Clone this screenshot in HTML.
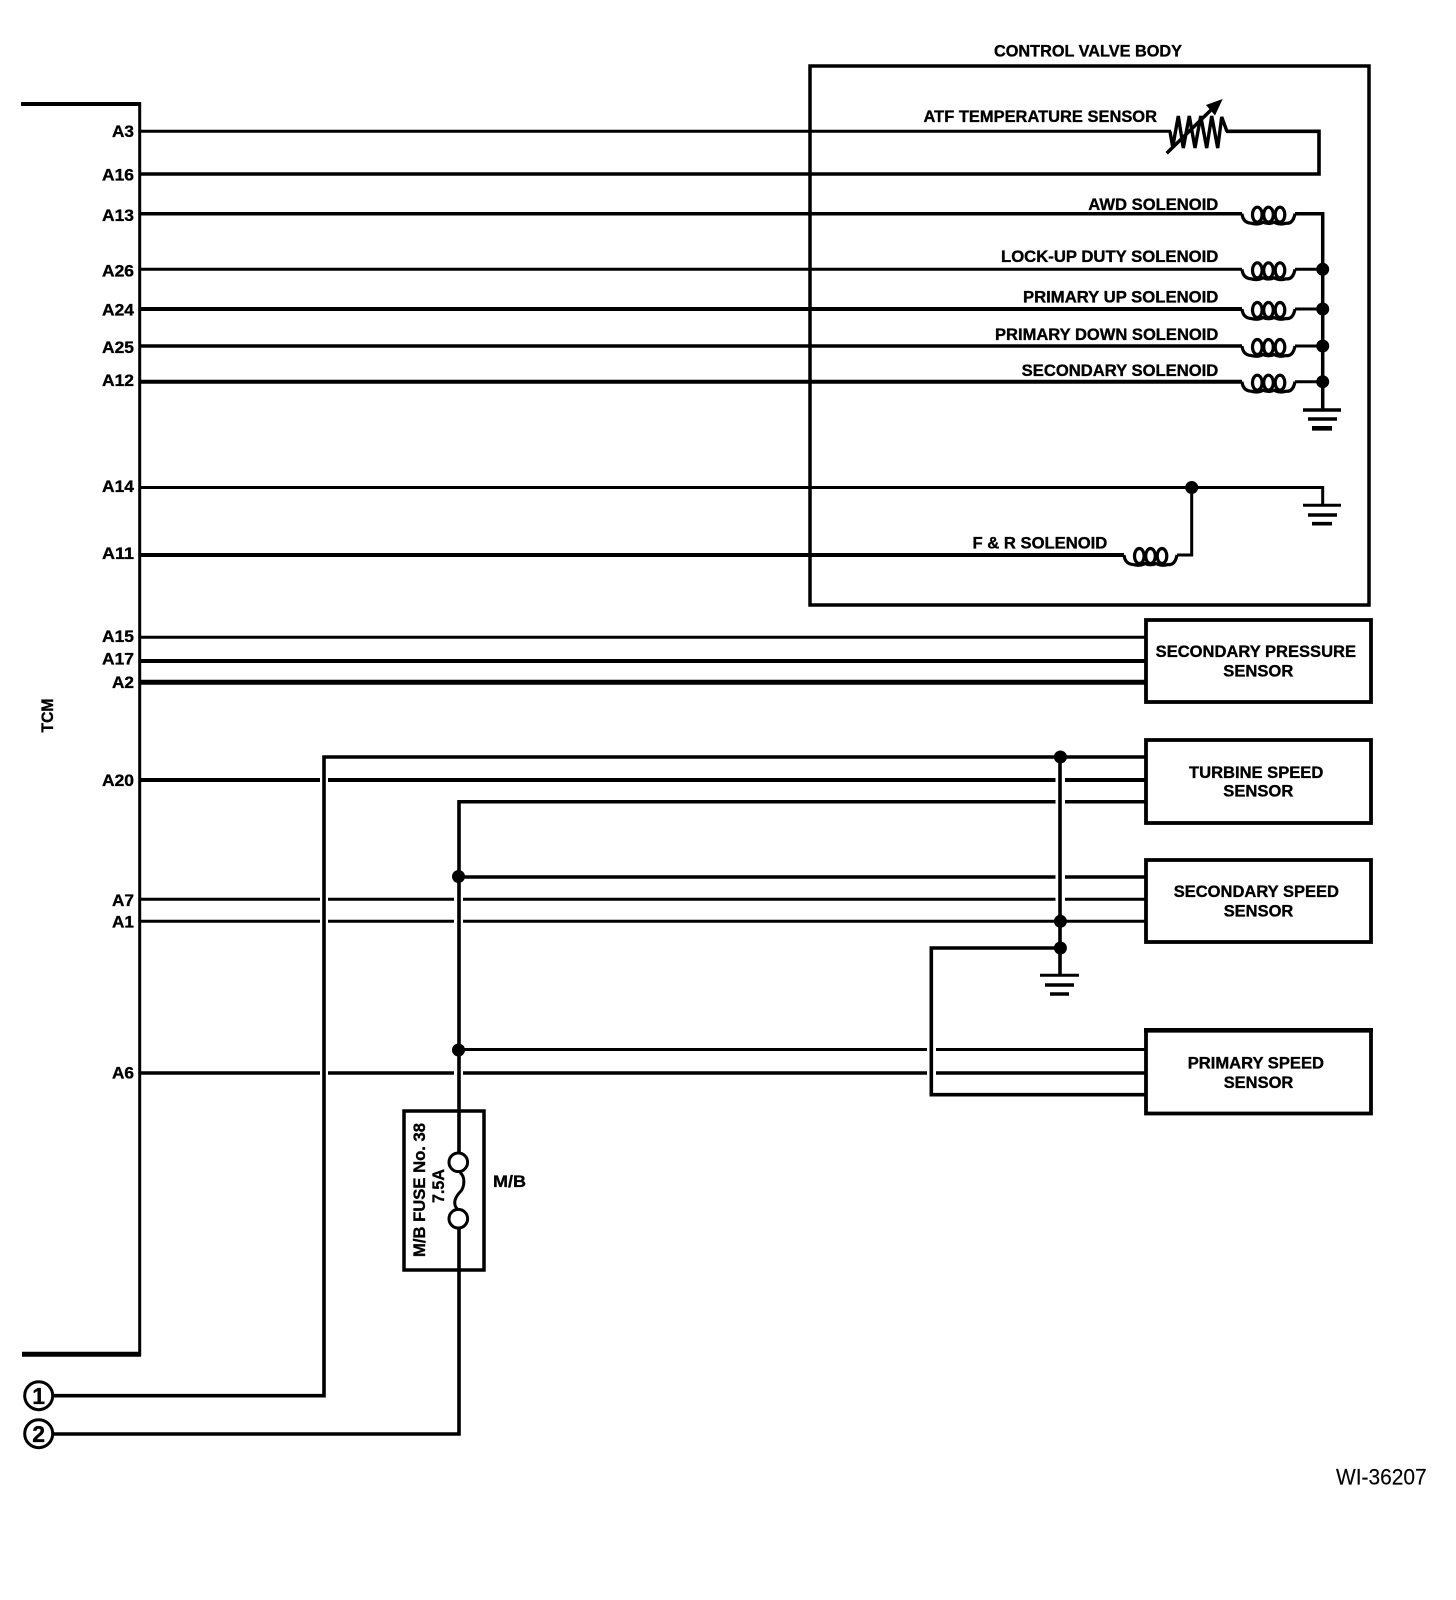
<!DOCTYPE html>
<html lang="en">
<head>
<meta charset="utf-8">
<title>TCM wiring diagram</title>
<style>
html,body{margin:0;padding:0;background:#fff}
svg{display:block}
text{font-family:"Liberation Sans",sans-serif;font-weight:700;font-size:16.5px;fill:#000;stroke:#000;stroke-width:.35}
.l{text-anchor:end}
.n{font-weight:400;stroke:#000;stroke-width:.15;font-size:22px}
line,path,rect,circle,ellipse{stroke:#000;fill:none}
.d{fill:#000;stroke:none}
</style>
</head>
<body>
<svg width="1456" height="1600" viewBox="0 0 1456 1600" xmlns="http://www.w3.org/2000/svg">
<defs>
<g id="coil">
<ellipse cx="15.300" cy="1" rx="4.800" ry="7.500" stroke-width="3.200"/>
<ellipse cx="26.500" cy="1" rx="4.800" ry="7.500" stroke-width="3.200"/>
<ellipse cx="38" cy="1" rx="4.800" ry="7.500" stroke-width="3.200"/>
<path stroke-width="3.200" d="M0,0 Q1,9 9,9.500 Q16,11.500 21,8.500 Q26.500,11 32,8.500 Q38,11.500 44,9.500 Q51,10.500 53,0"/>
</g>
</defs>

<!-- TCM outline -->
<path d="M21,104 H139.700 V1354.300 H22" stroke-width="3"/>
<line x1="21" y1="104" x2="141" y2="104" stroke-width="4"/>
<line x1="22" y1="1354.300" x2="141" y2="1354.300" stroke-width="5"/>
<text transform="translate(53,732.500) rotate(-90)" textLength="34" lengthAdjust="spacingAndGlyphs">TCM</text>

<!-- Pin labels -->
<text x="112" y="137" textLength="22" lengthAdjust="spacingAndGlyphs">A3</text>
<text x="102" y="180.300" textLength="32" lengthAdjust="spacingAndGlyphs">A16</text>
<text x="102" y="221" textLength="32" lengthAdjust="spacingAndGlyphs">A13</text>
<text x="102" y="276.300" textLength="32" lengthAdjust="spacingAndGlyphs">A26</text>
<text x="102" y="315.300" textLength="32" lengthAdjust="spacingAndGlyphs">A24</text>
<text x="102" y="353" textLength="32" lengthAdjust="spacingAndGlyphs">A25</text>
<text x="102" y="386" textLength="32" lengthAdjust="spacingAndGlyphs">A12</text>
<text x="102" y="492" textLength="32" lengthAdjust="spacingAndGlyphs">A14</text>
<text x="102" y="559" textLength="32" lengthAdjust="spacingAndGlyphs">A11</text>
<text x="102" y="642" textLength="32" lengthAdjust="spacingAndGlyphs">A15</text>
<text x="102" y="664.500" textLength="32" lengthAdjust="spacingAndGlyphs">A17</text>
<text x="112" y="688" textLength="22" lengthAdjust="spacingAndGlyphs">A2</text>
<text x="102" y="786" textLength="32" lengthAdjust="spacingAndGlyphs">A20</text>
<text x="112" y="906" textLength="22" lengthAdjust="spacingAndGlyphs">A7</text>
<text x="112" y="927.300" textLength="22" lengthAdjust="spacingAndGlyphs">A1</text>
<text x="112" y="1078.300" textLength="22" lengthAdjust="spacingAndGlyphs">A6</text>

<!-- Control valve body -->
<rect x="810" y="66" width="559" height="539" stroke-width="3.500"/>
<text x="994" y="56.500" textLength="188" lengthAdjust="spacingAndGlyphs">CONTROL VALVE BODY</text>

<!-- ATF sensor wires -->
<line x1="141" y1="131.300" x2="1171" y2="131.300" stroke-width="3"/>
<path d="M1226,131.300 H1319 V174 H141" stroke-width="3.600"/>
<text x="923.500" y="122" textLength="233.500" lengthAdjust="spacingAndGlyphs">ATF TEMPERATURE SENSOR</text>
<path d="M1170,131.500 L1172.700,147 L1178.300,116 L1183.300,148 L1189.300,116 L1195,148 L1200.700,116 L1206.700,148 L1211.700,116 L1217.700,148 L1221.700,117 L1227,131.500" stroke-width="3.400"/>
<line x1="1166.700" y1="153.300" x2="1212" y2="109" stroke-width="3.500"/>
<path class="d" d="M1222.700,99 L1206,105 L1215,115.500 Z"/>

<!-- Solenoid wires -->
<line x1="141" y1="213.700" x2="1242" y2="213.700" stroke-width="3.500"/>
<line x1="141" y1="269.300" x2="1242" y2="269.300" stroke-width="3"/>
<line x1="141" y1="309" x2="1242" y2="309" stroke-width="4"/>
<line x1="141" y1="346" x2="1242" y2="346" stroke-width="3.500"/>
<line x1="141" y1="381.700" x2="1242" y2="381.700" stroke-width="4"/>
<use href="#coil" transform="translate(1242,213.700)"/>
<use href="#coil" transform="translate(1242,269.300)"/>
<use href="#coil" transform="translate(1242,309)"/>
<use href="#coil" transform="translate(1242,346)"/>
<use href="#coil" transform="translate(1242,381.700)"/>
<path d="M1295,213.700 H1322.700 V410" stroke-width="3.500"/>
<line x1="1295" y1="269.300" x2="1322" y2="269.300" stroke-width="3"/>
<line x1="1295" y1="309" x2="1322" y2="309" stroke-width="3"/>
<line x1="1295" y1="346" x2="1322" y2="346" stroke-width="3"/>
<line x1="1295" y1="381.700" x2="1322" y2="381.700" stroke-width="3"/>
<circle class="d" cx="1322.700" cy="269.300" r="6.500"/>
<circle class="d" cx="1322.700" cy="309" r="6.500"/>
<circle class="d" cx="1322.700" cy="346" r="6.500"/>
<circle class="d" cx="1322.700" cy="381.700" r="6.500"/>
<line x1="1303" y1="410" x2="1341" y2="410" stroke-width="3.500"/>
<line x1="1308" y1="419" x2="1337" y2="419" stroke-width="3.600"/>
<line x1="1312" y1="428.300" x2="1332" y2="428.300" stroke-width="4.600"/>

<text x="1088.300" y="210" textLength="130" lengthAdjust="spacingAndGlyphs">AWD SOLENOID</text>
<text x="1001" y="262" textLength="217.300" lengthAdjust="spacingAndGlyphs">LOCK-UP DUTY SOLENOID</text>
<text x="1023" y="302.700" textLength="195.300" lengthAdjust="spacingAndGlyphs">PRIMARY UP SOLENOID</text>
<text x="995" y="340" textLength="223.300" lengthAdjust="spacingAndGlyphs">PRIMARY DOWN SOLENOID</text>
<text x="1021.700" y="376" textLength="196.600" lengthAdjust="spacingAndGlyphs">SECONDARY SOLENOID</text>

<!-- A14 / A11 -->
<path d="M141,487.500 H1322.700 V505" stroke-width="3"/>
<circle class="d" cx="1191.700" cy="487.500" r="6.500"/>
<line x1="1303" y1="505.300" x2="1341" y2="505.300" stroke-width="3"/>
<line x1="1308" y1="515" x2="1337" y2="515" stroke-width="3.600"/>
<line x1="1312" y1="523.700" x2="1332" y2="523.700" stroke-width="3.600"/>
<line x1="141" y1="555" x2="1124" y2="555" stroke-width="4"/>
<use href="#coil" transform="translate(1124,555)"/>
<path d="M1177,555 H1191.700 V488" stroke-width="3"/>
<text x="972.500" y="548.300" textLength="134.800" lengthAdjust="spacingAndGlyphs">F &amp; R SOLENOID</text>

<!-- Secondary pressure sensor -->
<line x1="141" y1="637.300" x2="1146" y2="637.300" stroke-width="3"/>
<line x1="141" y1="661" x2="1146" y2="661" stroke-width="4"/>
<line x1="141" y1="682.300" x2="1146" y2="682.300" stroke-width="5"/>
<rect x="1146" y="620" width="225" height="82" stroke-width="3.800"/>
<text x="1155.700" y="657" textLength="200.300" lengthAdjust="spacingAndGlyphs">SECONDARY PRESSURE</text>
<text x="1223.300" y="676.700" textLength="70" lengthAdjust="spacingAndGlyphs">SENSOR</text>

<!-- Turbine speed sensor -->
<rect x="1146" y="740" width="225" height="83" stroke-width="3.800"/>
<text x="1189" y="778" textLength="134.300" lengthAdjust="spacingAndGlyphs">TURBINE SPEED</text>
<text x="1223.300" y="796.700" textLength="70" lengthAdjust="spacingAndGlyphs">SENSOR</text>

<!-- Secondary speed sensor -->
<rect x="1146" y="860" width="225" height="82" stroke-width="3.800"/>
<text x="1173.700" y="897" textLength="165.300" lengthAdjust="spacingAndGlyphs">SECONDARY SPEED</text>
<text x="1223.700" y="916.700" textLength="69.600" lengthAdjust="spacingAndGlyphs">SENSOR</text>

<!-- Primary speed sensor -->
<rect x="1146" y="1030.500" width="225" height="83" stroke-width="3.800"/>
<line x1="1144" y1="1030.300" x2="1373" y2="1030.300" stroke-width="4.600"/>
<text x="1187.700" y="1068.700" textLength="136.300" lengthAdjust="spacingAndGlyphs">PRIMARY SPEED</text>
<text x="1223.700" y="1088" textLength="69.600" lengthAdjust="spacingAndGlyphs">SENSOR</text>

<!-- Horizontal wires with crossing gaps -->
<path d="M141,780 H320 M328,780 H1055.500 M1065,780 H1146" stroke-width="4"/>
<path d="M141,899.300 H320 M328,899.300 H454 M463,899.300 H1055.500 M1065,899.300 H1146" stroke-width="3"/>
<path d="M141,921.300 H320 M328,921.300 H454 M463,921.300 H1146" stroke-width="3"/>
<path d="M459,1049.500 H927 M936,1049.500 H1146" stroke-width="3"/>
<path d="M141,1073 H320 M328,1073 H454 M463,1073 H927 M936,1073 H1146" stroke-width="3.600"/>
<path d="M459,877 H1055.500 M1065,877 H1146" stroke-width="3.500"/>
<path d="M1065,801.700 H1146 M1055.500,801.700 H459" stroke-width="3.500"/>

<!-- Long verticals -->
<path d="M53,1395.700 H324 V757 H1146" stroke-width="3.600"/>
<path d="M459,800 V1153 M459,1228 V1434 H53" stroke-width="3.600"/>
<circle class="d" cx="458.500" cy="876.500" r="6.500"/>
<circle class="d" cx="458.500" cy="1050" r="6.500"/>

<!-- Ground junction -->
<line x1="1060" y1="757" x2="1060" y2="975" stroke-width="3.600"/>
<circle class="d" cx="1060.400" cy="757" r="6.500"/>
<circle class="d" cx="1060.400" cy="921.300" r="6.500"/>
<circle class="d" cx="1060.400" cy="948" r="6.500"/>
<path d="M1060,948 H931.300 V1094.700 H1146" stroke-width="3.600"/>
<line x1="1040" y1="975.300" x2="1079" y2="975.300" stroke-width="3"/>
<line x1="1045" y1="985" x2="1074" y2="985" stroke-width="3.600"/>
<line x1="1050" y1="994" x2="1069" y2="994" stroke-width="3.600"/>

<!-- Fuse -->
<rect x="404" y="1111" width="80" height="159" stroke-width="3.500"/>
<circle cx="458.300" cy="1162.300" r="9.300" stroke-width="3"/>
<circle cx="458.300" cy="1218.700" r="9.300" stroke-width="3"/>
<path d="M460,1172.500 C466,1177 464,1187 461,1191 C456,1196 454,1201 455,1205 C455.500,1207 457,1209 458,1209.500" stroke-width="3"/>
<text transform="translate(425,1257) rotate(-90)" textLength="134" lengthAdjust="spacingAndGlyphs">M/B FUSE No. 38</text>
<text transform="translate(444,1203) rotate(-90)" textLength="34" lengthAdjust="spacingAndGlyphs">7.5A</text>
<text x="493" y="1187" textLength="33" lengthAdjust="spacingAndGlyphs">M/B</text>

<!-- Off-page connectors -->
<circle cx="38.700" cy="1395.700" r="14" stroke-width="3"/>
<circle cx="38.700" cy="1433.700" r="14" stroke-width="3"/>
<text x="38.700" y="1404" text-anchor="middle" style="font-size:23px">1</text>
<text x="38.700" y="1442" text-anchor="middle" style="font-size:23px">2</text>

<text class="n" x="1336" y="1484.300" textLength="90.700" lengthAdjust="spacingAndGlyphs">WI-36207</text>
</svg>
</body>
</html>
